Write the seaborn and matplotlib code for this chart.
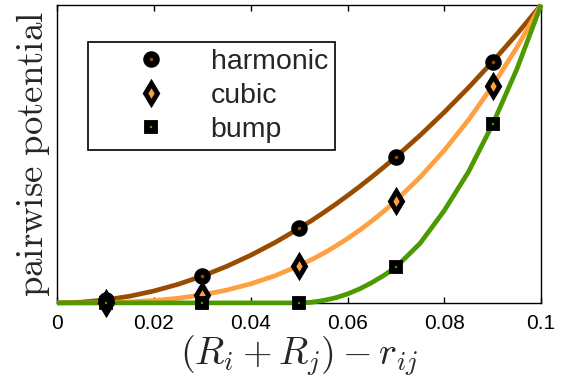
import matplotlib
matplotlib.use("Agg")
import matplotlib.pyplot as plt
import seaborn as sns
import numpy as np

# ---- data ----
curve_x = [0.000, 0.005, 0.010, 0.015, 0.020, 0.025, 0.030, 0.035, 0.040, 0.045,
           0.050, 0.0525, 0.055, 0.0575, 0.060, 0.0625, 0.065, 0.0675, 0.070, 0.075,
           0.080, 0.085, 0.090, 0.095, 0.100]
harmonic_curve = [0.000, 0.0025, 0.010, 0.0225, 0.040, 0.0625, 0.090, 0.1225, 0.160, 0.2025,
                  0.250, 0.2756, 0.3025, 0.3306, 0.360, 0.3906, 0.4225, 0.4556, 0.490, 0.5625,
                  0.640, 0.7225, 0.810, 0.9025, 1.000]
cubic_curve = [0.000, 0.0001, 0.001, 0.0034, 0.008, 0.0156, 0.027, 0.0429, 0.064, 0.0911,
               0.125, 0.1447, 0.166, 0.1901, 0.216, 0.2441, 0.2746, 0.3075, 0.343, 0.4219,
               0.512, 0.6141, 0.729, 0.8574, 1.000]
bump_curve = [0.000, 0.000, 0.000, 0.000, 0.000, 0.000, 0.000, 0.000, 0.000, 0.000,
              0.000, 0.002, 0.008, 0.017, 0.030, 0.047, 0.068, 0.092, 0.120, 0.200,
              0.310, 0.440, 0.600, 0.785, 1.000]

marker_x = [0.01, 0.03, 0.05, 0.07, 0.09]
harmonic_pts = [0.010, 0.090, 0.250, 0.490, 0.810]
cubic_pts = [0.001, 0.027, 0.125, 0.343, 0.729]
bump_pts = [0.000, 0.000, 0.000, 0.120, 0.600]

labels = ["harmonic", "cubic", "bump"]
colors = ["#994C00", "#FFA040", "#4D9900"]
xticks = [0, 0.02, 0.04, 0.06, 0.08, 0.1]
xtick_labels = ["0", "0.02", "0.04", "0.06", "0.08", "0.1"]

# ---- style ----
sns.set_style("white")
plt.rcParams["font.family"] = ["Liberation Sans", "DejaVu Sans"]
plt.rcParams["mathtext.fontset"] = "cm"

fig = plt.figure(figsize=(5.66, 3.81), dpi=100)
ax = fig.add_axes([0.101, 0.205, 0.855, 0.782])

curves = [harmonic_curve, cubic_curve, bump_curve]
points = [harmonic_pts, cubic_pts, bump_pts]
markers = ["o", "d", "s"]
msizes = [7.3, 9.8, 6.0]
mews = [4.6, 3.5, 4.2]

for c, col in zip(curves, colors):
    sns.lineplot(x=curve_x, y=c, color=col, linewidth=3.4, ax=ax,
                 clip_on=False, zorder=3, solid_capstyle="butt")

for p, col, m, ms, mew, lab in zip(points, colors, markers, msizes, mews, labels):
    sns.lineplot(x=marker_x, y=p, ax=ax, linestyle="", marker=m,
                 markersize=ms, markerfacecolor=col, markeredgecolor="black",
                 markeredgewidth=mew, clip_on=False, zorder=4, label=lab)

ax.set_xlim(0, 0.1)
ax.set_ylim(0, 1)
ax.set_xticks(xticks)
ax.set_xticklabels(xtick_labels)
ax.set_yticks([])
ax.tick_params(axis="x", direction="in", length=4, width=1, top=True,
               bottom=True, labelsize=15, pad=8, colors="black")
for s in ax.spines.values():
    s.set_visible(True)
    s.set_color("black")
    s.set_linewidth(1.0)

ax.set_xlabel(r"$(R_i+R_j)-r_{ij}$", fontsize=27.5, labelpad=0)
ax.set_ylabel(r"$\mathrm{pairwise\ potential}$", fontsize=26.5, labelpad=4)

leg = ax.legend(loc="upper left", bbox_to_anchor=(0.064, 0.875), borderaxespad=0,
                fontsize=20.5, frameon=True, fancybox=False, framealpha=1,
                edgecolor="black", numpoints=1, handlelength=3.95,
                handletextpad=0.1, borderpad=0.25, labelspacing=0.28)
leg.get_frame().set_linewidth(1.2)

fig.savefig("out.png", dpi=100)
